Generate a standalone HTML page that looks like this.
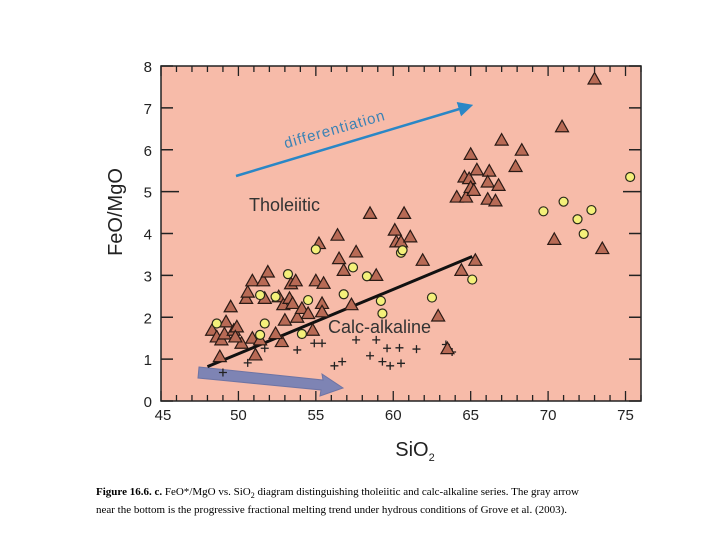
<!DOCTYPE html>
<html><head><meta charset="utf-8">
<style>
body{margin:0;background:#fff;width:720px;height:540px;overflow:hidden;}
svg{position:absolute;left:0;top:0;}
.cap{position:absolute;left:96px;top:485px;width:500px;font:11px "Liberation Serif",serif;line-height:15px;color:#000;}
</style></head><body>
<svg id="chart" width="720" height="540" xmlns="http://www.w3.org/2000/svg"></svg>
<div class="cap"><b>Figure 16.6. c.</b> FeO*/MgO vs. SiO<sub style="font-size:8px">2</sub> diagram distinguishing tholeiitic and calc-alkaline series. The gray arrow near the bottom is the progressive fractional melting trend under hydrous conditions of Grove et al. (2003).</div>
<script>
const triX=[48.3,48.6,48.8,48.9,49.2,49.1,49.5,49.7,49.9,50.2,49.8,50.5,50.6,50.9,50.9,51.1,51.4,51.6,51.7,51.9,52.6,52.8,52.9,52.4,53.0,53.3,53.4,53.5,53.7,53.8,54.1,54.5,54.8,55.0,55.2,55.4,55.5,55.4,56.4,56.5,56.8,57.3,57.6,58.5,58.9,60.1,60.2,60.5,60.7,61.1,61.9,64.4,65.3,62.9,63.5,64.1,64.7,64.6,64.9,65.0,65.2,65.0,65.4,66.2,66.1,66.8,66.1,66.6,67.0,67.9,68.3,70.9,70.4,73.5,73.0];
const triY=[1.69,1.53,1.06,1.46,1.89,1.6,2.25,1.69,1.77,1.38,1.53,2.45,2.6,2.87,1.5,1.1,1.46,2.87,2.45,3.08,2.49,1.42,2.3,1.61,1.93,2.45,2.8,2.33,2.87,2.0,2.21,2.09,1.69,2.87,3.76,2.33,2.81,2.13,3.96,3.4,3.12,2.3,3.56,4.48,3.0,4.08,3.8,3.8,4.48,3.92,3.36,3.12,3.36,2.03,1.25,4.87,4.87,5.35,5.31,5.1,5.03,5.89,5.52,5.49,5.23,5.15,4.82,4.78,6.23,5.6,5.99,6.55,3.86,3.64,7.69];
const cirX=[48.6,51.4,51.7,51.4,52.4,53.2,54.1,54.5,55.0,56.8,57.4,58.3,59.2,59.3,60.5,60.6,62.5,65.1,69.7,71.0,71.9,72.3,72.8,75.3];
const cirY=[1.85,2.53,1.85,1.58,2.49,3.03,1.6,2.41,3.62,2.55,3.19,2.98,2.39,2.09,3.54,3.6,2.47,2.9,4.53,4.76,4.34,3.99,4.56,5.35];
const plusX=[49.0,50.6,51.7,53.8,54.9,55.4,56.2,56.7,57.6,58.5,58.9,59.3,59.6,59.8,60.5,60.4,61.5,63.4,63.8];
const plusY=[0.68,0.91,1.26,1.22,1.38,1.38,0.84,0.94,1.46,1.08,1.46,0.94,1.26,0.84,0.9,1.27,1.24,1.35,1.17];
const xTicks=[45,50,55,60,65,70,75];
const yTicks=[0,1,2,3,4,5,6,7,8];
const trendLine=[[48,0.82],[65.1,3.45]];

const NS="http://www.w3.org/2000/svg";
const svg=document.getElementById('chart');
const L=161,R=641,T=66,B=401,X0=45,X1=76,Y0=0,Y1=8;
const sx=v=>L+(v-X0)/(X1-X0)*(R-L);
const sy=v=>B-(v-Y0)/(Y1-Y0)*(B-T);
function mk(t,a,p){const e=document.createElementNS(NS,t);for(const k in a)e.setAttribute(k,a[k]);(p||svg).appendChild(e);return e;}

let e=mk('rect',{x:L,y:T,width:R-L,height:B-T,fill:'#f7bba9',stroke:'#222','stroke-width':1.5});



for(let v=45;v<=76;v++){
  const len=v%5===0?10:6;
  e=mk('line',{x1:sx(v),x2:sx(v),y1:B,y2:B-len,stroke:'#222','stroke-width':1.3});
  
  
  e=mk('line',{x1:sx(v),x2:sx(v),y1:T,y2:T+len,stroke:'#222','stroke-width':1.3});
  
  
}
for(const v of yTicks){
  const len=v===5?18:12;
  e=mk('line',{x1:L,x2:L+len,y1:sy(v),y2:sy(v),stroke:'#222','stroke-width':1.5});
  
  
  e=mk('line',{x1:R,x2:R-len,y1:sy(v),y2:sy(v),stroke:'#222','stroke-width':1.5});
  
  
  e=mk('text',{x:L-9,y:sy(v)+6,'text-anchor':'end','font-family':'Liberation Sans, sans-serif','font-size':15,fill:'#222'});
  e.textContent=v;
  
  
}
for(const v of xTicks){
  e=mk('text',{x:sx(v)+(v===45?2:0),y:B+19,'text-anchor':'middle','font-family':'Liberation Sans, sans-serif','font-size':15,fill:'#222'});
  e.textContent=v;
  
  
}
e=mk('text',{x:122,y:212,transform:'rotate(-90 122 212)','text-anchor':'middle','font-family':'Liberation Sans, sans-serif','font-size':20,fill:'#222'});
e.textContent='FeO/MgO';


e=mk('text',{x:415,y:456,'text-anchor':'middle','font-family':'Liberation Sans, sans-serif','font-size':20,fill:'#222'});
e.innerHTML='SiO<tspan font-size="11" dy="5">2</tspan>';



const defs=mk('defs',{});
const m=mk('marker',{id:'bh',markerWidth:6,markerHeight:6,refX:3,refY:3,orient:'auto',markerUnits:'strokeWidth'},defs);
mk('path',{d:'M0,0 L6,3 L0,6 Z',fill:'#2a87c6'},m);
e=mk('line',{x1:236,y1:176,x2:466,y2:107,stroke:'#2a87c6','stroke-width':2.5,'marker-end':'url(#bh)'});


e=mk('text',{x:336,y:134,transform:'rotate(-16 336 134)','text-anchor':'middle','font-family':'Liberation Sans, sans-serif','font-size':15,fill:'#3a82b4','letter-spacing':'1'});
e.textContent='differentiation';



e=mk('path',{d:'M199,367 L323,380 L322,374 L343,388 L320,396 L321,390 L198,378 Z',fill:'#7e84b4',stroke:'#6e74a4','stroke-width':1});



e=mk('text',{x:249,y:211,'font-family':'Liberation Sans, sans-serif','font-size':18,fill:'#333'});
e.textContent='Tholeiitic';


e=mk('text',{x:328,y:333,'font-family':'Liberation Sans, sans-serif','font-size':18,fill:'#333'});
e.textContent='Calc-alkaline';



e=mk('line',{x1:sx(trendLine[0][0]),y1:sy(trendLine[0][1]),x2:sx(trendLine[1][0]),y2:sy(trendLine[1][1]),stroke:'#111','stroke-width':3});



for(let i=0;i<plusX.length;i++){
  const x=sx(plusX[i]),y=sy(plusY[i]);
  e=mk('path',{d:`M${x-4},${y}H${x+4}M${x},${y-4}V${y+4}`,stroke:'#222','stroke-width':1.3,fill:'none'});
  
  
}
for(let i=0;i<triX.length;i++){
  const x=sx(triX[i]),y=sy(triY[i]);
  e=mk('path',{d:`M${x},${y-6.5}L${x+6.5},${y+5}L${x-6.5},${y+5}Z`,fill:'#b86a55',stroke:'#2a1a15','stroke-width':1.2});
  
  
}
for(let i=0;i<cirX.length;i++){
  e=mk('circle',{cx:sx(cirX[i]),cy:sy(cirY[i]),r:4.5,fill:'#f4f07a',stroke:'#2a2a1a','stroke-width':1.2});
  
  
}
</script>
</body></html>
